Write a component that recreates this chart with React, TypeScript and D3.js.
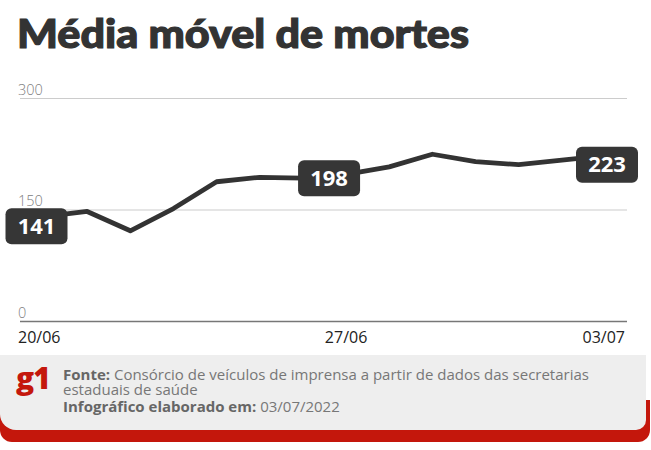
import React from "react";
import * as d3 from "d3";

const dates = ["20/06","21/06","22/06","23/06","24/06","25/06","26/06","27/06","28/06","29/06","30/06","01/07","02/07","03/07"];
const values = [141, 148, 122, 152, 188, 194, 193, 198, 208, 225, 215, 211, 217, 223];
const yTicks = [0, 150, 300];
const xTickLabels = ["20/06", "27/06", "03/07"];
const labelIndices = [0, 7, 13];

const W = 651, H = 450;
const gridLeft = 20, gridRight = 627;
const BOX_OFFSETS = [[-7.5, 9.6], [-17, 4], [2, 9]];

export default function App() {
  const x = d3.scalePoint<string>().domain(dates).range([44, 605]);
  const y = d3.scaleLinear().domain([0, 300]).range([321.5, 98.5]);
  const line = d3.line<number>().x((_, i) => x(dates[i])!).y((d) => y(d));
  const font = "'Open Sans', sans-serif";
  return (
    <svg width={W} height={H} style={{ position: "absolute", left: 0, top: 0, background: "#fff" }}>
      <text x={17} y={48} fontFamily="Lato, sans-serif" fontWeight={900} fontSize={40} fill="#333"
        stroke="#333" strokeWidth={1.2} textLength={452} lengthAdjust="spacingAndGlyphs">Média móvel de mortes</text>
      {yTicks.map((t) => (
        <g key={t}>
          <line x1={gridLeft} x2={gridRight} y1={y(t)} y2={y(t)} stroke={t === 0 ? "#777" : "#ccc"} strokeWidth={t === 0 ? 1.5 : 1.2} />
          <text x={18} y={y(t) - 4} fontFamily={font} fontWeight={300} fontSize={14.5} fill="#808080">{t}</text>
        </g>
      ))}
      {xTickLabels.map((l, i) => (
        <text key={l}
          x={i === 0 ? 18 : i === xTickLabels.length - 1 ? 625 : x(l)!}
          y={343} fontFamily={font} fontSize={16} fill="#222"
          textAnchor={i === 0 ? "start" : i === xTickLabels.length - 1 ? "end" : "middle"}>{l}</text>
      ))}
      <path d={line(values) || ""} fill="none" stroke="#333" strokeWidth={4.8} strokeLinejoin="round" />
      {labelIndices.map((idx, k) => {
        const cx = x(dates[idx])! + BOX_OFFSETS[k][0];
        const cy = y(values[idx]) + BOX_OFFSETS[k][1];
        return (
          <g key={idx}>
            <rect x={cx - 31} y={cy - 18} width={62} height={36} rx={6} fill="#363636" />
            <text x={cx} y={cy + 7.5} textAnchor="middle" fontFamily={font} fontWeight={700} fontSize={22} fill="#fff">{values[idx]}</text>
          </g>
        );
      })}
      {/* footer */}
      <path d="M0,400 H650 V430 A12,12 0 0 1 638,442 H12 A12,12 0 0 1 0,430 Z" fill="#c4170c" />
      <path d="M0,355 H646 V420 A10,10 0 0 1 636,430 H16 A16,16 0 0 1 0,414 Z" fill="#eeeeee" />
      <text x={16} y={389} fontFamily={font} fontWeight={800} fontSize={30} fill="#c4170c" letterSpacing={-1}>g1</text>
      <text x={63} y={380} fontFamily={font} fontSize={15} fill="#777">
        <tspan fontWeight={700} fill="#666">Fonte:</tspan> Consórcio de veículos de imprensa a partir de dados das secretarias
      </text>
      <text x={63} y={395} fontFamily={font} fontSize={15} fill="#777">estaduais de saúde</text>
      <text x={63} y={412} fontFamily={font} fontSize={15} fill="#777">
        <tspan fontWeight={700} fill="#666">Infográfico elaborado em:</tspan> 03/07/2022
      </text>
    </svg>
  );
}
